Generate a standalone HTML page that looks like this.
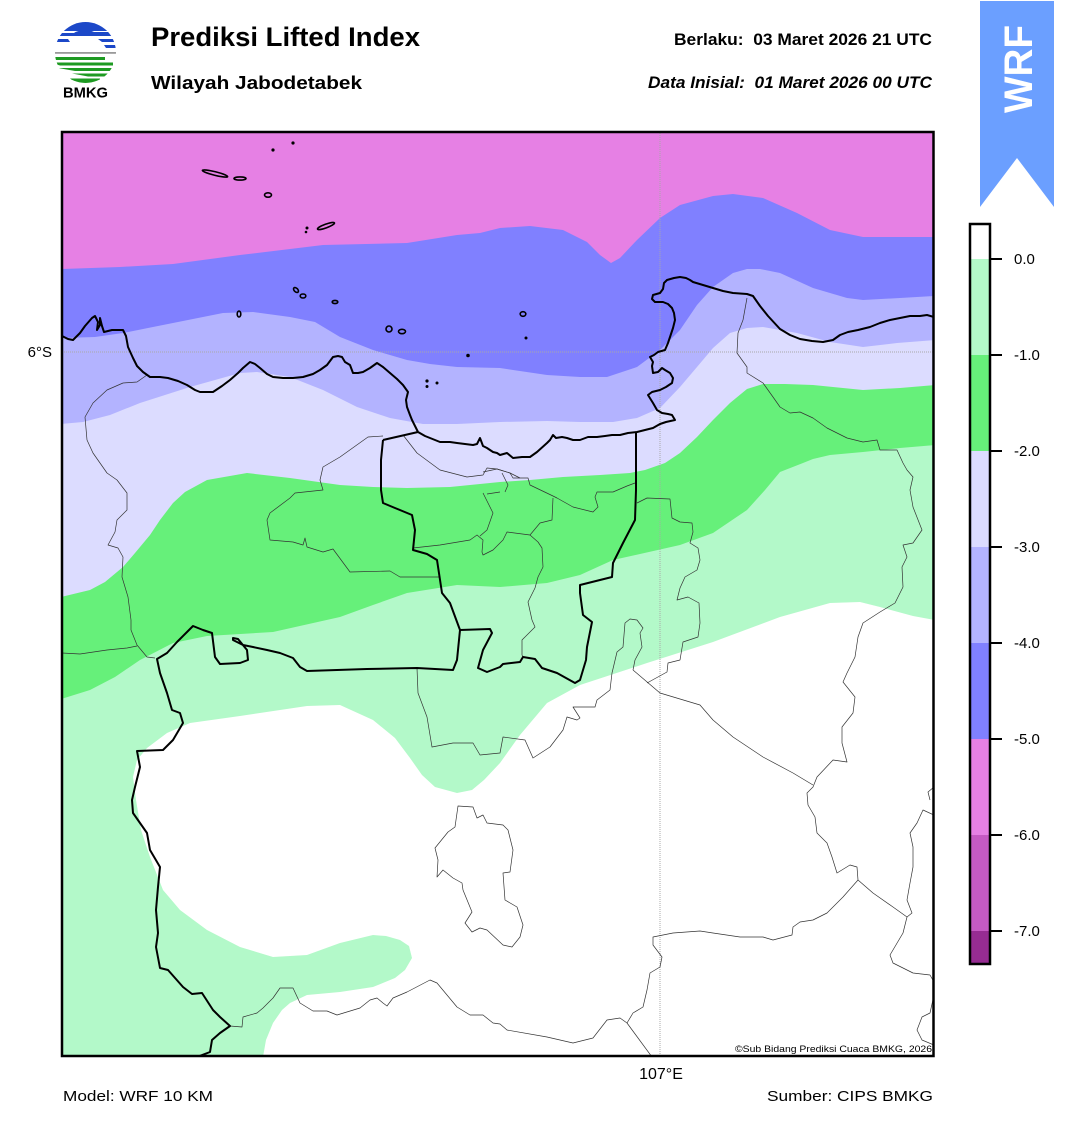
<!DOCTYPE html>
<html><head><meta charset="utf-8"><style>
html,body{margin:0;padding:0;background:#fff;}
svg{display:block;}
text{font-family:"Liberation Sans",Arial,sans-serif;}
</style></head><body>
<svg width="1068" height="1128" viewBox="0 0 1068 1128" xmlns="http://www.w3.org/2000/svg">
<rect width="1068" height="1128" fill="#fff"/>
<defs>
<clipPath id="mapclip"><rect x="62" y="132" width="872" height="924"/></clipPath>
<clipPath id="lc"><circle cx="85.5" cy="52.5" r="30.5"/></clipPath>
</defs>

<!-- Logo -->
<g clip-path="url(#lc)">
<rect x="50" y="20" width="72" height="11" fill="#1c48c8"/>
<path d="M50,33 H74 Q78,30 84,31 Q88,29 94,32 H122 V36 H50 Z" fill="#1c48c8"/>
<path d="M50,39 H68 L70,42 H50 Z M98,39 H122 V42 H102 Z" fill="#1c48c8"/>
<path d="M104,45 H122 V48 H106 Z" fill="#1c48c8"/>
<rect x="50" y="52" width="72" height="1.8" fill="#9a9a9a"/>
<path d="M50,57 H105 V60 H50 Z" fill="#1e9a22"/>
<path d="M50,62.5 H113 V65.5 H60 Z" fill="#1e9a22"/>
<path d="M58,68 H122 V71 H75 Z" fill="#1e9a22"/>
<path d="M72,73.5 H122 V76.5 H88 Z" fill="#1e9a22"/>
<path d="M70,78.5 H100 V83 H75 Z" fill="#1e9a22"/>
</g>
<text x="85.5" y="97.5" font-size="15" font-weight="bold" text-anchor="middle" textLength="45" lengthAdjust="spacingAndGlyphs">BMKG</text>

<!-- Titles -->
<text x="151" y="46" font-size="26.5" font-weight="bold" textLength="269" lengthAdjust="spacingAndGlyphs">Prediksi Lifted Index</text>
<text x="151" y="89" font-size="18.5" font-weight="bold" textLength="211" lengthAdjust="spacingAndGlyphs">Wilayah Jabodetabek</text>
<text x="932" y="45" font-size="16.5" font-weight="bold" text-anchor="end" textLength="258" lengthAdjust="spacingAndGlyphs" xml:space="preserve">Berlaku:  03 Maret 2026 21 UTC</text>
<text x="932" y="88" font-size="16.5" font-weight="bold" font-style="italic" text-anchor="end" textLength="284" lengthAdjust="spacingAndGlyphs" xml:space="preserve">Data Inisial:  01 Maret 2026 00 UTC</text>

<!-- WRF ribbon -->
<path d="M980,1 H1054 V207 L1017,158 L980,207 Z" fill="#6b9fff"/>
<text transform="translate(1032,69) rotate(-90)" x="0" y="0" font-size="40" font-weight="bold" fill="#fff" text-anchor="middle" textLength="88" lengthAdjust="spacingAndGlyphs">WRF</text>

<!-- Map -->
<g clip-path="url(#mapclip)">
<rect x="62" y="131" width="872" height="926" fill="#b3f9c9"/>
<!-- white region -->
<path d="M263,1057 L266,1040 L273,1023 L282,1010 L290,1003 L307,995 L340,992 L373,987 L395,978 L405,970 L412,958 L409,946 L400,940 L386,936 L373,935 L340,943 L307,955 L273,957 L240,947 L207,930 L180,910 L163,890 L150,857 L141,830 L136,800 L133,777 L137,760 L147,748 L167,733 L190,723 L240,716 L307,706 L340,705 L373,720 L395,738 L410,758 L422,775 L435,787 L457,793 L472,790 L484,780 L500,763 L520,735 L547,703 L580,685 L647,663 L713,642 L780,617 L830,603 L860,602 L880,607 L913,616 L935,620 L935,1057 Z" fill="#fff"/>
<!-- green -1 -->
<path d="M61,130 H935 V445 L900,448 L863,452 L830,455 L813,459 L803,463 L780,472 L765,490 L747,510 L713,533 L680,545 L613,560 L580,575 L547,583 L500,587 L457,585 L407,593 L373,605 L340,617 L273,632 L207,636 L173,643 L140,660 L115,677 L90,690 L61,699 Z" fill="#66f07a"/>
<!-- -2 very light lavender -->
<path d="M61,130 H935 V385 L900,388 L863,390 L813,385 L785,384 L763,384 L747,389 L730,403 L713,420 L697,437 L680,453 L665,463 L645,470 L630,473 L600,475 L563,477 L530,480 L500,482 L450,487 L407,488 L373,487 L340,485 L290,478 L247,473 L207,480 L185,492 L173,503 L160,520 L150,535 L135,553 L123,567 L105,582 L90,590 L61,597 Z" fill="#dcdcff"/>
<!-- -3 light blue -->
<path d="M61,130 H935 V340 L897,343 L863,347 L830,342 L797,333 L763,327 L747,328 L730,333 L713,348 L697,367 L680,387 L660,408 L637,418 L613,422 L580,422 L547,421 L500,422 L457,424 L423,424 L390,418 L357,407 L323,390 L290,377 L257,372 L240,373 L215,380 L190,387 L165,395 L140,403 L110,415 L83,422 L61,424 Z" fill="#b3b3ff"/>
<!-- -4 blue -->
<path d="M61,130 H935 V296 L900,298 L863,300 L847,298 L813,288 L780,273 L760,269 L747,269 L733,273 L713,287 L697,305 L680,330 L660,350 L637,367 L607,377 L580,377 L547,375 L500,368 L457,367 L430,364 L407,360 L373,350 L340,337 L315,322 L290,317 L253,312 L223,313 L198,318 L173,323 L148,328 L123,333 L95,337 L61,338 Z" fill="#8080ff"/>
<!-- -5 pink -->
<path d="M61,130 H935 V237 L900,237 L863,237 L830,230 L797,213 L763,198 L733,194 L713,196 L680,205 L660,218 L637,240 L620,258 L611,263 L600,255 L587,242 L563,230 L530,226 L500,228 L480,233 L457,235 L407,243 L323,245 L240,255 L173,264 L120,267 L61,269 Z" fill="#e680e4"/>

<!-- gridlines -->
<line x1="62" y1="352" x2="934" y2="352" stroke="#a8a8a8" stroke-width="1" stroke-dasharray="1,1"/>
<line x1="660" y1="131" x2="660" y2="1056" stroke="#a8a8a8" stroke-width="1" stroke-dasharray="1,1"/>

<!-- thin admin boundaries -->
<g fill="none" stroke="#333" stroke-width="0.7" stroke-linejoin="round">
<path d="M147,375 L137,382 L123,383 L107,390 L93,403 L85,417 L87,440 L93,453 L100,463 L107,473 L117,480 L127,493 L127,510 L117,520 L115,532 L108,545 L118,548 L123,557 L122,577 L128,597 L131,620 L131,630 L137,645 L147,657 L155,658"/>
<path d="M62,653 L80,654 L107,650 L127,648 L137,646"/>
<path d="M383,436 L368,437 L340,457 L323,467 L320,480 L323,490 L295,493 L290,498 L270,513 L267,520 L270,540 L293,542 L303,545 L305,538 L307,547 L323,552 L333,549 L350,572 L390,571 L400,577 L440,577"/>
<path d="M403,435 L417,453 L440,470 L467,477 L483,475 L487,468 L497,469 L510,473 L520,478"/>
<path d="M413,548 L440,545 L470,540 L477,535 L483,540 L482,552 L483,555 L493,550 L503,540 L507,532 L530,535"/>
<path d="M483,493 L493,513 L487,530 L480,536"/>
<path d="M500,492 L487,494"/>
<path d="M483,472 L497,469 L510,473 L513,478 L528,478 L530,485 L553,496 L557,498 L573,507 L593,512 L598,507 L595,497 L597,492 L613,492 L627,486 L635,483"/>
<path d="M553,498 L552,520 L540,523 L530,535 L538,542 L542,548 L543,567 L538,577 L535,588 L528,602 L532,620 L535,627 L522,640 L522,655 L523,657"/>
<path d="M505,492 L508,485 L502,473"/>
<path d="M637,503 L647,498 L670,499 L672,518 L680,522 L692,523 L693,532 L690,543 L698,548 L700,560 L697,570 L685,577 L680,588 L677,600 L688,597 L699,603 L700,623 L698,637 L683,642 L680,660 L668,663 L667,672 L647,683"/>
<path d="M633,670 L660,693 L700,705 L713,720 L733,737 L763,757 L793,773 L813,785"/>
<path d="M633,670 L635,660 L642,647 L640,633 L643,628 L637,620 L630,619 L625,623 L623,647 L617,652 L612,673 L610,690 L597,700 L595,707 L573,707 L580,718 L577,720 L567,717 L563,730 L550,747 L533,758 L525,740 L503,737 L500,753 L480,755 L473,743 L453,743 L432,747 L427,717 L418,693 L417,668"/>
<path d="M747,298 L743,320 L738,333 L737,353 L747,367 L747,373 L763,383 L773,397 L780,407 L790,413 L800,412 L813,418 L827,428 L847,438 L863,442 L877,440 L880,450 L897,450 L903,463 L907,470 L913,477 L910,490 L913,507 L922,530 L913,543 L903,545 L907,557 L902,567 L903,587 L895,603 L880,612 L863,623 L858,637 L855,657 L847,673 L843,682 L855,697 L853,713 L842,727 L842,743 L847,762 L833,760 L817,777 L813,787 L807,793 L808,805 L815,817 L817,833 L827,843 L832,857 L837,873 L850,865 L857,867 L858,880 L873,893 L893,907 L907,917 L912,913 L907,900 L910,883 L913,867 L913,847 L910,833 L917,823 L923,810 L934,815"/>
<path d="M858,880 L843,897 L827,913 L813,920 L800,922 L793,927 L792,935 L773,940 L763,937 L740,937 L713,933 L700,931 L673,933 L653,937 L653,945 L662,957 L660,967 L650,973 L647,990 L643,1007 L633,1013 L627,1023 L620,1018 L607,1020 L593,1038 L573,1043 L547,1037 L507,1030 L500,1024 L493,1023 L483,1015 L470,1015 L457,1007 L437,983 L430,980 L407,992 L393,998 L387,1006 L383,1003 L377,998 L370,1000 L360,1008 L337,1015 L327,1011 L313,1011 L300,1003 L293,988 L280,988 L273,998 L263,1008 L257,1013 L243,1017 L242,1027 L230,1026"/>
<path d="M627,1023 L652,1057"/>
<path d="M907,917 L903,933 L890,955 L893,963 L913,973 L930,975 L934,982"/>
<path d="M934,995 L930,1013 L922,1017 L917,1030 L922,1040 L934,1045"/>
<path d="M934,787 L928,792 L930,800"/>
<path d="M458,806 L473,807 L477,818 L483,815 L487,823 L503,825 L508,830 L513,850 L510,872 L503,873 L505,900 L517,907 L523,925 L520,937 L512,947 L503,945 L487,930 L480,928 L472,932 L465,923 L472,912 L463,890 L462,883 L453,878 L443,870 L437,877 L438,860 L435,848 L448,832 L455,827 Z"/>
</g>

<!-- coastline -->
<g fill="none" stroke="#000" stroke-width="2" stroke-linejoin="round">
<path d="M62,336 L68,339 L73,340 L80,333 L85,326 L92,318 L95,316 L98,322 L97,330 L100,325 L100,318 L102,326 L104,332 L112,330 L123,330 L126,336 L128,347 L133,358 L137,366 L143,372 L150,377 L160,377 L168,378 L178,381 L187,385 L195,390 L200,392 L213,392 L222,386 L230,380 L238,373 L243,368 L250,362 L255,364 L260,368 L267,374 L273,377 L283,378 L293,378 L303,377 L313,374 L320,370 L327,365 L333,357 L338,356 L342,357 L345,362 L350,365 L353,373 L358,373 L363,372 L370,368 L377,363 L383,367 L390,373 L397,379 L403,385 L408,392 L406,400 L407,407 L410,415 L412,420 L418,432 L425,436 L430,438 L440,442 L450,442 L457,443 L465,444 L473,445 L477,444 L480,438 L483,446 L487,448 L493,452 L497,453 L500,455 L507,453 L513,458 L522,457 L530,457 L537,452 L547,443 L550,440 L553,435 L556,438 L562,437 L567,438 L573,440 L580,440 L588,437 L597,437 L605,436 L612,435 L620,435 L628,433 L637,432 L645,430 L653,428 L660,424 L666,422 L675,420 L672,415 L668,414 L662,413 L657,410 L653,403 L648,395 L652,392 L660,390 L666,387 L672,383 L673,378 L670,373 L665,370 L662,368 L658,372 L653,373 L652,366 L653,362 L650,357 L654,355 L658,352 L665,350 L668,343 L670,337 L673,328 L675,320 L674,313 L672,308 L668,304 L663,302 L655,302 L652,299 L653,295 L660,293 L663,289 L664,283 L667,280 L674,278 L680,277 L686,278 L690,280 L693,282 L703,285 L713,288 L723,291 L733,293 L747,294 L753,296 L760,306 L768,316 L780,329 L790,335 L800,339 L812,341 L823,342 L833,340 L840,335 L848,332 L858,330 L870,327 L880,323 L890,320 L900,318 L910,316 L920,316 L927,315 L934,317"/>
<path d="M383,440 L418,432"/>
<path d="M383,440 L381,460 L381,490 L383,503 L395,508 L412,515 L415,530 L413,550 L427,554 L437,560 L442,593 L450,603 L460,630 L457,660 L453,670 L417,668 L367,669 L307,671 L300,667 L293,658 L280,653 L267,650 L253,647 L243,645 L233,640 L233,638 L238,639 L247,650 L248,660 L240,663 L220,664 L215,657 L212,633 L203,630 L193,626 L187,632 L177,642 L167,653 L157,659 L160,673 L167,693 L172,710 L180,713 L183,723 L173,740 L163,750 L137,751 L140,767 L135,787 L132,800 L133,813 L140,823 L147,833 L150,850 L160,867 L158,887 L156,910 L158,933 L156,947 L160,968 L168,970 L183,987 L192,994 L202,993 L213,1010 L220,1017 L230,1026 L220,1033 L212,1040 L210,1052 L197,1057"/>
<path d="M460,630 L490,629 L492,633 L483,650 L478,668 L487,672 L500,667 L503,664 L520,662 L523,657 L535,659 L542,668 L557,673 L575,683 L580,680 L586,660 L587,647 L592,622 L583,615 L580,593 L580,585 L612,577 L613,563 L623,543 L635,520 L636,490 L636,432"/>
</g>
<!-- islands -->
<g fill="none" stroke="#000" stroke-width="1.6">
<ellipse cx="215" cy="173.5" rx="13" ry="1.8" transform="rotate(14 215 173.5)"/>
<ellipse cx="240" cy="178.5" rx="6" ry="1.6"/>
<ellipse cx="268" cy="195" rx="3.5" ry="2.2"/>
<ellipse cx="326" cy="226" rx="9" ry="1.8" transform="rotate(-20 326 226)"/>
<ellipse cx="296" cy="290" rx="3" ry="1.8" transform="rotate(45 296 290)"/>
<ellipse cx="303" cy="296" rx="2.8" ry="2"/>
<ellipse cx="335" cy="302" rx="2.8" ry="1.6"/>
<ellipse cx="239" cy="314" rx="1.8" ry="3"/>
<ellipse cx="389" cy="329" rx="3" ry="3"/>
<ellipse cx="402" cy="331.5" rx="3.5" ry="2.2"/>
<ellipse cx="523" cy="314" rx="2.8" ry="2.3"/>
</g>
<g fill="#000">
<circle cx="293" cy="143" r="1.6"/>
<circle cx="273" cy="150" r="1.6"/>
<circle cx="307" cy="228" r="1.5"/>
<circle cx="306" cy="232" r="1.3"/>
<circle cx="468" cy="355.5" r="1.8"/>
<circle cx="427" cy="381" r="1.6"/>
<circle cx="427" cy="386.5" r="1.5"/>
<circle cx="437" cy="383" r="1.5"/>
<circle cx="526" cy="338" r="1.5"/>
</g>
<text x="932" y="1052" font-size="9.2" text-anchor="end" textLength="197" lengthAdjust="spacingAndGlyphs">©Sub Bidang Prediksi Cuaca BMKG, 2026</text>
</g>
<rect x="62" y="132" width="871.5" height="924" fill="none" stroke="#000" stroke-width="2.5"/>

<!-- axis labels -->
<text x="52" y="357" font-size="15" text-anchor="end">6°S</text>
<text x="661" y="1079" font-size="16" text-anchor="middle">107°E</text>
<text x="63" y="1101" font-size="15" textLength="150" lengthAdjust="spacingAndGlyphs">Model: WRF 10 KM</text>
<text x="933" y="1101" font-size="15" text-anchor="end" textLength="166" lengthAdjust="spacingAndGlyphs">Sumber: CIPS BMKG</text>

<!-- colorbar -->
<rect x="970" y="224" width="20" height="35" fill="#fff"/>
<rect x="970" y="259" width="20" height="96" fill="#b3f9c9"/>
<rect x="970" y="355" width="20" height="96" fill="#66f07a"/>
<rect x="970" y="451" width="20" height="96" fill="#dcdcff"/>
<rect x="970" y="547" width="20" height="96" fill="#b3b3ff"/>
<rect x="970" y="643" width="20" height="96" fill="#8080ff"/>
<rect x="970" y="739" width="20" height="96" fill="#e680e4"/>
<rect x="970" y="835" width="20" height="96" fill="#c55ac3"/>
<rect x="970" y="931" width="20" height="33" fill="#962c92"/>
<rect x="970" y="224" width="20" height="740" fill="none" stroke="#000" stroke-width="2.5"/>
<g stroke="#000" stroke-width="2">
<line x1="990" y1="259" x2="1002" y2="259"/>
<line x1="990" y1="355" x2="1002" y2="355"/>
<line x1="990" y1="451" x2="1002" y2="451"/>
<line x1="990" y1="547" x2="1002" y2="547"/>
<line x1="990" y1="643" x2="1002" y2="643"/>
<line x1="990" y1="739" x2="1002" y2="739"/>
<line x1="990" y1="835" x2="1002" y2="835"/>
<line x1="990" y1="931" x2="1002" y2="931"/>
</g>
<g font-size="15">
<text x="1014" y="264">0.0</text>
<text x="1014" y="360">-1.0</text>
<text x="1014" y="456">-2.0</text>
<text x="1014" y="552">-3.0</text>
<text x="1014" y="648">-4.0</text>
<text x="1014" y="744">-5.0</text>
<text x="1014" y="840">-6.0</text>
<text x="1014" y="936">-7.0</text>
</g>
</svg>
</body></html>
